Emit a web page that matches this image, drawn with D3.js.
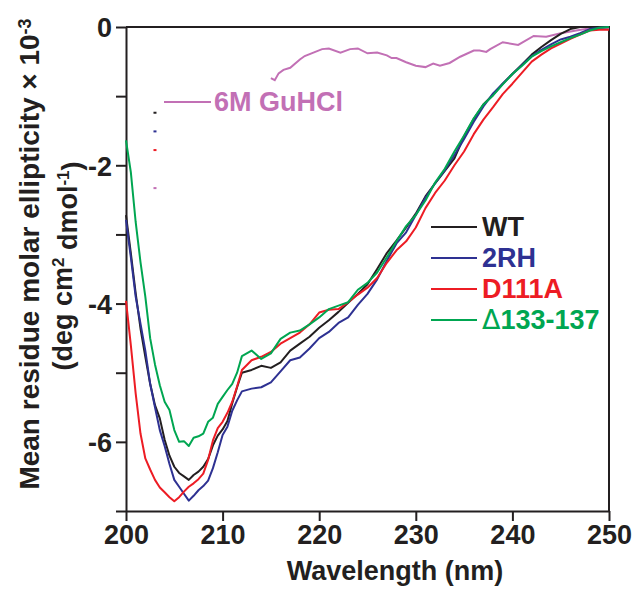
<!DOCTYPE html>
<html>
<head>
<meta charset="utf-8">
<script src="https://cdn.jsdelivr.net/npm/d3@7"></script>
<style>
  body { margin: 0; background: #fff; }
  text { font-family: "Liberation Sans", Arial, sans-serif; font-weight: bold; }
</style>
</head>
<body>
<svg id="chart" width="634" height="590"></svg>
<script>
// wavelength grid (nm) shared by the four protein spectra
const wavelength = [200, 200.5, 201, 201.5, 202, 202.5, 203, 203.5, 204, 204.5, 205, 205.5, 206, 206.5,
  207, 207.5, 208, 208.5, 209, 209.5, 210, 210.5, 211, 211.5, 212, 213, 214, 215, 216, 217, 218, 219,
  220, 221, 222, 223, 224, 225, 226, 227, 228, 229, 230, 231, 232, 233, 234, 235, 236, 237, 238, 239,
  240, 241, 242, 243, 244, 245, 246, 247, 248, 249, 250];

const wt = [-2.72, -3.27, -3.85, -4.36, -4.77, -5.16, -5.47, -5.66, -5.97, -6.20, -6.36, -6.45, -6.50, -6.55,
  -6.48, -6.43, -6.36, -6.25, -6.05, -5.91, -5.82, -5.70, -5.44, -5.21, -5.00, -4.96, -4.90, -4.93, -4.85, -4.68, -4.58, -4.48,
  -4.35, -4.24, -4.12, -3.99, -3.86, -3.72, -3.50, -3.27, -3.09, -2.90, -2.70, -2.45, -2.26, -2.08, -1.90, -1.58, -1.33, -1.12, -0.98, -0.82,
  -0.68, -0.54, -0.40, -0.29, -0.19, -0.10, -0.03, 0, 0, 0, 0];

const rh2 = [-2.79, -3.33, -3.90, -4.29, -4.68, -5.16, -5.50, -5.83, -6.06, -6.32, -6.55, -6.65, -6.75, -6.85,
  -6.78, -6.70, -6.64, -6.56, -6.38, -6.15, -5.90, -5.78, -5.55, -5.40, -5.27, -5.23, -5.21, -5.14, -4.98, -4.82, -4.78, -4.65,
  -4.50, -4.41, -4.28, -4.20, -4.02, -3.86, -3.65, -3.38, -3.13, -2.97, -2.72, -2.47, -2.26, -2.07, -1.85, -1.62, -1.37, -1.15, -0.96, -0.82,
  -0.68, -0.55, -0.42, -0.33, -0.25, -0.18, -0.14, -0.09, -0.03, -0.01, 0];

const d111a = [-3.96, -4.60, -5.30, -5.88, -6.24, -6.40, -6.55, -6.66, -6.73, -6.80, -6.86, -6.80, -6.72, -6.65,
  -6.60, -6.54, -6.46, -6.26, -5.98, -5.80, -5.71, -5.58, -5.42, -5.20, -4.96, -4.82, -4.77, -4.70, -4.58, -4.50, -4.42, -4.30,
  -4.13, -4.09, -4.08, -3.98, -3.87, -3.77, -3.63, -3.41, -3.23, -3.10, -2.90, -2.62, -2.40, -2.22, -2.00, -1.80, -1.55, -1.34, -1.16, -0.97,
  -0.82, -0.66, -0.50, -0.40, -0.31, -0.24, -0.17, -0.11, -0.05, -0.04, -0.04];

const del133 = [-1.64, -2.10, -2.82, -3.40, -3.90, -4.50, -4.88, -5.18, -5.42, -5.54, -5.83, -6.00, -5.99, -6.06,
  -5.94, -5.92, -5.88, -5.71, -5.65, -5.45, -5.35, -5.25, -5.16, -5.00, -4.76, -4.68, -4.80, -4.72, -4.51, -4.42, -4.39, -4.30,
  -4.20, -4.08, -4.03, -3.98, -3.80, -3.70, -3.55, -3.33, -3.10, -2.88, -2.72, -2.51, -2.25, -2.05, -1.80, -1.57, -1.32, -1.12, -0.99, -0.83,
  -0.68, -0.56, -0.43, -0.35, -0.28, -0.22, -0.16, -0.11, -0.05, -0.01, 0];

// denatured sample, own wavelength points
const guhWl = [215, 215.4, 215.8, 216.3, 217, 218, 218.5, 219.4, 220.3, 221, 222.2, 223.2, 224, 225, 226, 227,
  227.5, 228, 229, 230, 231, 231.8, 232.5, 233.5, 234.6, 236, 236.6, 237.3, 237.7, 239, 240.6, 242.2, 243.5,
  245, 246.6, 248.4, 250];
const guhVal = [-0.74, -0.77, -0.67, -0.62, -0.59, -0.47, -0.42, -0.37, -0.32, -0.31, -0.37, -0.32, -0.31, -0.38, -0.37, -0.41,
  -0.45, -0.45, -0.51, -0.56, -0.58, -0.53, -0.56, -0.52, -0.43, -0.34, -0.34, -0.36, -0.32, -0.22, -0.26, -0.13, -0.14,
  -0.09, -0.05, -0.01, -0.02];

const seriesNames = ["WT", "2RH", "D111A", "\u0394133-137"];
const seriesColors = ["#231f20", "#2e3192", "#ed1c24", "#00a651"];
const guhColor = "#c270b5";

// leftover legend marks near the left axis (wavelength, value)
const strayWl = 203;
const strayVal = [-1.24, -1.51, -1.78, -2.33];
const strayColors = ["#231f20", "#2e3192", "#ed1c24", guhColor];

const xTicks = [200, 210, 220, 230, 240, 250];
const yTicks = [0, -1, -2, -3, -4, -5, -6, -7];

const margin = { top: 27, right: 25, bottom: 79, left: 126 };
const width = 634 - margin.left - margin.right;
const height = 590 - margin.top - margin.bottom;

const svg = d3.select("#chart");
const g = svg.append("g").attr("transform", `translate(${margin.left},${margin.top})`);

const x = d3.scaleLinear().domain([200, 250]).range([0, width]);
const y = d3.scaleLinear().domain([-7, 0]).range([height, 0]);

// frame (top + right)
g.append("path")
  .attr("d", `M0,0H${width}V${height}`)
  .attr("fill", "none")
  .attr("stroke", "#231f20")
  .attr("stroke-width", 2);

//x axis
const xAxis = g.append("g")
  .attr("transform", `translate(0,${height})`)
  .call(d3.axisBottom(x).tickValues(xTicks).tickSize(10).tickSizeOuter(0).tickPadding(4).tickFormat(d3.format("d")));

//y axis
const yAxis = g.append("g")
  .call(d3.axisLeft(y).tickValues(yTicks).tickSize(10).tickSizeOuter(0).tickPadding(4)
    .tickFormat(d => (d % 2 === 0 ? (d < 0 ? "-" + Math.abs(d) : "0") : "")));

[xAxis, yAxis].forEach(a => {
  a.select(".domain").attr("stroke", "#231f20").attr("stroke-width", 2);
  a.selectAll(".tick line").attr("stroke", "#231f20").attr("stroke-width", 2);
  a.selectAll(".tick text").attr("fill", "#231f20").style("font-size", "27px").style("font-family", "Liberation Sans, Arial, sans-serif").style("font-weight", "bold");
});
yAxis.selectAll(".tick text").attr("dy", "0.36em");

//spectra
const line = d3.line().x(d => x(d[0])).y(d => y(d[1]));
const allSeries = [wt, rh2, d111a, del133];

g.append("path")
  .datum(guhWl.map((w, i) => [w, guhVal[i]]))
  .attr("fill", "none")
  .attr("stroke", guhColor)
  .attr("stroke-width", 2)
  .attr("d", line);

allSeries.forEach((vals, k) => {
  g.append("path")
    .datum(wavelength.map((w, i) => [w, vals[i]]))
    .attr("fill", "none")
    .attr("stroke", seriesColors[k])
    .attr("stroke-width", 2)
    .attr("stroke-linejoin", "round")
    .attr("d", line);
});

//stray marks
g.selectAll(".stray")
  .data(strayVal)
  .enter()
  .append("rect")
  .attr("x", x(strayWl) - 1.5)
  .attr("y", d => y(d) - 1)
  .attr("width", 3)
  .attr("height", 2)
  .attr("fill", (d, i) => strayColors[i]);

//legend
const legendX = 305;
const legendY = 200;
const legendStep = 31;
seriesNames.forEach((name, i) => {
  const ly = legendY + i * legendStep;
  g.append("line")
    .attr("x1", legendX).attr("x2", legendX + 46)
    .attr("y1", ly).attr("y2", ly)
    .attr("stroke", seriesColors[i])
    .attr("stroke-width", 2);
  const t = g.append("text")
    .attr("x", legendX + 51)
    .attr("y", ly + 9)
    .attr("fill", seriesColors[i])
    .style("font-size", "27px");
  if (name[0] === "\u0394") {
    t.append("tspan").style("font-weight", "normal").style("font-family", "DejaVu Sans, sans-serif").text("\u0394");
    t.append("tspan").text(name.slice(1));
  } else {
    t.text(name);
  }
});

// 6M GuHCl label
g.append("line")
  .attr("x1", 38).attr("x2", 85)
  .attr("y1", 75).attr("y2", 75)
  .attr("stroke", guhColor)
  .attr("stroke-width", 2);
g.append("text")
  .attr("x", 88)
  .attr("y", 84)
  .attr("fill", guhColor)
  .style("font-size", "27px")
  .text("6M GuHCl");

//axis titles
svg.append("text")
  .attr("x", 395)
  .attr("y", 580)
  .attr("text-anchor", "middle")
  .attr("fill", "#231f20")
  .style("font-size", "27px")
  .text("Wavelength (nm)");

const yt1 = svg.append("text")
  .attr("transform", "translate(39,254) rotate(-90)")
  .attr("text-anchor", "middle")
  .attr("fill", "#231f20")
  .style("font-size", "28px");
yt1.append("tspan").text("Mean residue molar ellipticity \u00d7 10");
yt1.append("tspan").attr("dy", "-0.45em").style("font-size", "18px").text("-3");

const yt2 = svg.append("text")
  .attr("transform", "translate(72,266) rotate(-90)")
  .attr("text-anchor", "middle")
  .attr("fill", "#231f20")
  .style("font-size", "27px");
yt2.append("tspan").text("(deg cm");
yt2.append("tspan").attr("dy", "-0.45em").style("font-size", "17px").text("2");
yt2.append("tspan").attr("dy", "0.45em").text(" dmol");
yt2.append("tspan").attr("dy", "-0.45em").style("font-size", "17px").text("-1");
yt2.append("tspan").attr("dy", "0.45em").text(")");
</script>
</body>
</html>
